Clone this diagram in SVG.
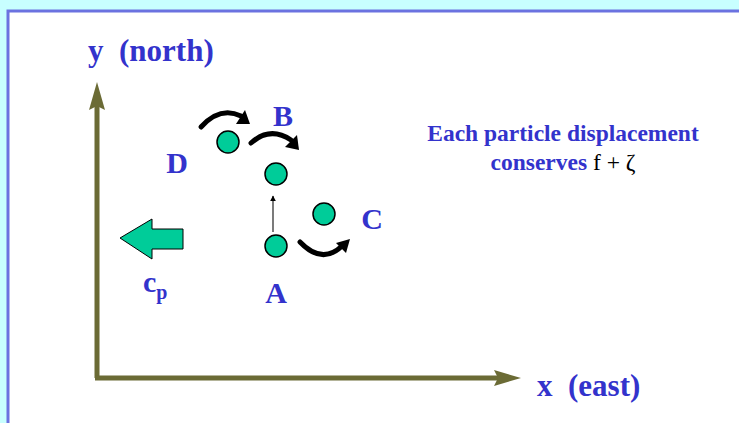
<svg xmlns="http://www.w3.org/2000/svg" width="739" height="423" viewBox="0 0 739 423">
<defs>
<style>
.lbl{font-family:"Liberation Serif","Times New Roman",serif;font-weight:bold;fill:#3333CC;white-space:pre}
.axis{stroke:#6B6B35;stroke-width:5;fill:none}
.p{fill:#00CC99;stroke:#000;stroke-width:1.5}
.curl{stroke:#000;stroke-width:5;fill:none;stroke-linecap:round}
</style>
<marker id="ah" viewBox="0 0 10 10" refX="9" refY="5" markerWidth="6" markerHeight="6" orient="auto" markerUnits="userSpaceOnUse">
<path d="M0,0 L10,5 L0,10 Z" fill="#000"/>
</marker>
</defs>
<rect x="0" y="0" width="739" height="423" fill="#C8FFFF"/>
<rect x="8" y="11" width="740" height="420" fill="#fff" stroke="#6B72E0" stroke-width="3"/>
<g id="connectors">
<path class="axis" d="M97,378 L97,100"/>
<path d="M97,82 L105,110 L97,106 L89,110 Z" fill="#6B6B35"/>
<path class="axis" d="M95,378 L505,378"/>
<path d="M521,378 L494,370 L498,378 L494,386 Z" fill="#6B6B35"/>
<line x1="273" y1="232" x2="273" y2="196" stroke="#333" stroke-width="1.3" marker-end="url(#ah)"/>
<path class="curl" d="M201,127 Q220,106 241,116"/>
<path d="M250,124 L236,124 L245,110 Z" fill="#000"/>
<path class="curl" d="M251,143 Q270,126 291,140"/>
<path d="M299,150 L285,147 L297,135 Z" fill="#000"/>
<path class="curl" d="M300,242 Q322,265 342,246"/>
<path d="M350,239 L346,253 L336,243 Z" fill="#000"/>
</g>
<g id="particleD"><circle class="p" cx="228" cy="142" r="11"/><text class="lbl" x="177" y="173" font-size="30" text-anchor="middle">D</text></g>
<g id="particleB"><circle class="p" cx="276" cy="174" r="11"/><text class="lbl" x="283" y="126" font-size="30" text-anchor="middle">B</text></g>
<g id="particleC"><circle class="p" cx="324" cy="214" r="11"/><text class="lbl" x="372" y="229" font-size="30" text-anchor="middle">C</text></g>
<g id="particleA"><circle class="p" cx="276" cy="246" r="11"/><text class="lbl" x="276" y="303" font-size="30" text-anchor="middle">A</text></g>
<g id="cp">
<path d="M120,238 L152,219 L152,229 L183,229 L183,249 L152,249 L152,259 Z" fill="#00CC99" stroke="#000" stroke-width="1"/>
<text class="lbl" x="143" y="292" font-size="30">c<tspan font-size="20" dy="7">p</tspan></text>
</g>
<g id="yaxis-label"><text class="lbl" x="88" y="61" font-size="31" xml:space="preserve">y  (north)</text></g>
<g id="xaxis-label"><text class="lbl" x="537" y="396" font-size="31" xml:space="preserve">x  (east)</text></g>
<g id="note">
<text class="lbl" x="563" y="141" font-size="23.5" text-anchor="middle">Each particle displacement</text>
<text class="lbl" x="563" y="170" font-size="23.5" text-anchor="middle">conserves <tspan font-weight="normal" fill="#000">f + ζ</tspan></text>
</g>
</svg>
